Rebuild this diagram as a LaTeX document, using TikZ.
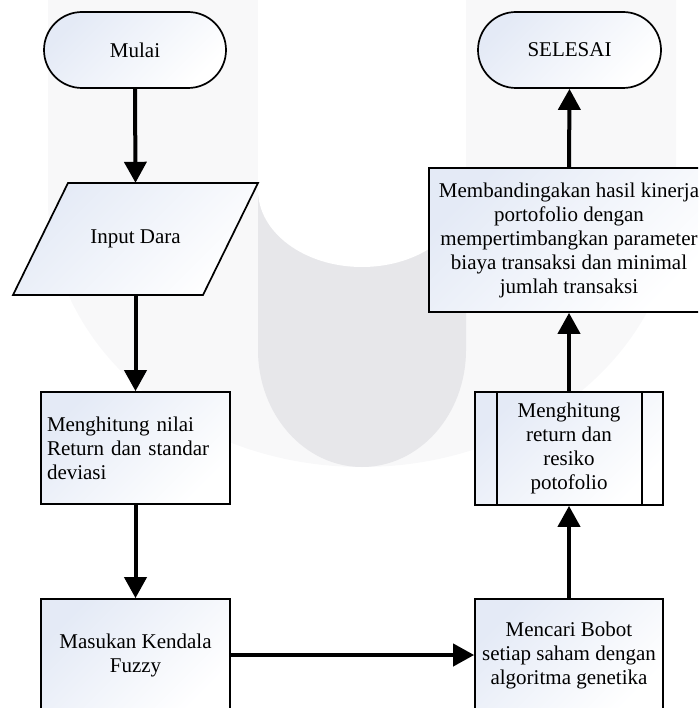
\documentclass[tikz,border=0pt]{standalone}
\usepackage{fontspec}
\setmainfont{Liberation Serif}
\usetikzlibrary{shapes.misc,arrows.meta}
\definecolor{boxblue}{RGB}{228,234,246}
\definecolor{wmlight}{RGB}{248,248,249}
\definecolor{wmdark}{RGB}{231,231,234}

\begin{document}
\begin{tikzpicture}[x=1pt, y=-1pt,
  box/.style={draw, line width=1.7pt, top color=boxblue, bottom color=white, shading angle=45,
    font=\fontsize{21}{24}\selectfont, align=center, inner sep=4pt},
  flow/.style={line width=4pt, -{Triangle[width=22pt,length=21pt]}}]
\clip (0,0) rectangle (698,708);
\fill [wmlight] (48,0) -- (48,200) arc [start angle=180, end angle=0, x radius=314, y radius=267] -- (676,0) -- cycle;
\fill [wmdark] (258,190) -- (258,350) arc [start angle=180, end angle=0, x radius=104, y radius=117] -- (466,190) -- cycle;
\fill [white] (258,0) -- (258,190) arc [start angle=180, end angle=0, x radius=104, y radius=77] -- (466,0) -- cycle;

\node [box, rounded rectangle, minimum width=190pt, minimum height=76pt] (mulai) at (135,50) {Mulai};
\path [box] (68,183) -- (258,183) -- (203,295) -- (13,295) -- cycle;
\node [font=\fontsize{21}{24}\selectfont, minimum width=190pt, minimum height=112pt] (input) at (135.5,239) {Input Dara};
\node [box, align=left, text width=177pt, inner sep=6pt, minimum height=112pt] (hitung) at (135.5,448)
  {Menghitung nilai\\Return dan standar\\deviasi};
\node [box, minimum width=189pt, minimum height=112pt] (fuzzy) at (135.5,655) {Masukan Kendala\\Fuzzy};
\node [box, minimum width=188pt, minimum height=112pt] (bobot) at (569,655)
  {Mencari Bobot\\setiap saham dengan\\algoritma genetika};
\node [box, minimum width=188pt, minimum height=113pt] (risiko) at (569,448.5)
  {Menghitung\\return dan\\resiko\\potofolio};
\draw [line width=1.7pt] ([xshift=23pt]risiko.north west) -- ([xshift=23pt]risiko.south west);
\draw [line width=1.7pt] ([xshift=-22pt]risiko.north east) -- ([xshift=-22pt]risiko.south east);
\node [box, minimum width=280pt, minimum height=144pt] (banding) at (569,240)
  {Membandingakan hasil kinerja\\portofolio dengan\\mempertimbangkan parameter\\biaya transaksi dan minimal\\jumlah transaksi};
\node [box, rounded rectangle, minimum width=191pt, minimum height=76pt] (selesai) at (569.5,50) {SELESAI};

\draw [flow] (mulai.south) -- (input.north);
\draw [flow] (input.south) -- (hitung.north);
\draw [flow] (hitung.south) -- (fuzzy.north);
\draw [flow] (fuzzy.east) -- (bobot.west);
\draw [flow] (bobot.north) -- (risiko.south);
\draw [flow] (risiko.north) -- (banding.south);
\draw [flow] (banding.north) -- (selesai.south);
\end{tikzpicture}
\end{document}
